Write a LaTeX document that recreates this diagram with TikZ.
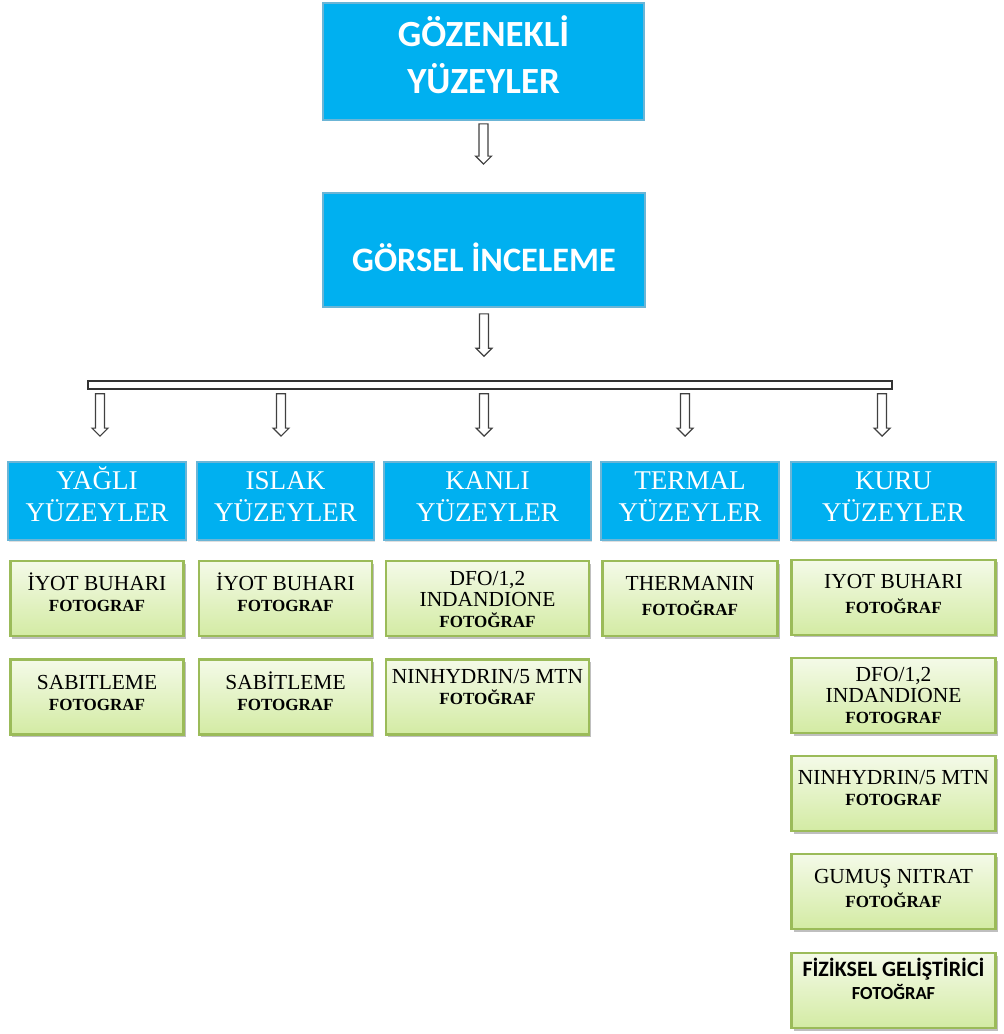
\documentclass[tikz,border=0pt]{standalone}
\usepackage{fontspec}
\setmainfont{Liberation Serif}
\newfontfamily\calibri{Carlito}
\usetikzlibrary{positioning,calc,shadows}

\definecolor{cyanb}{HTML}{00B0F0}
\definecolor{bline}{HTML}{6BB5D6}
\definecolor{gline}{HTML}{9BBB59}
\definecolor{gtop}{HTML}{F4FAE8}
\definecolor{gbot}{HTML}{D3EBA3}

\newcommand{\gsub}[1]{{\fontsize{9.7}{12}\selectfont\bfseries #1}}

\tikzset{
  tbox/.style={fill=cyanb, draw=bline, line width=1pt, minimum width=6.43cm,
    minimum height=2.34cm, align=center, text=white,
    font=\calibri\bfseries\fontsize{21}{27}\selectfont,
    drop shadow={shadow xshift=.02cm, shadow yshift=-.03cm, opacity=.25}},
  bbox/.style={fill=cyanb, draw=bline, line width=1pt, minimum height=1.56cm,
    align=center, text=white, font=\fontsize{15.4}{18}\selectfont,
    text height=.8cm, text depth=0pt,
    drop shadow={shadow xshift=.02cm, shadow yshift=-.03cm, opacity=.25}},
  gbox/.style 2 args={draw=gline, line width=1.2pt, top color=gtop, bottom color=gbot,
    inner sep=0pt, font=\fontsize{12.2}{12}\selectfont,
    drop shadow={shadow xshift=.04cm, shadow yshift=-.05cm, opacity=.5},
    execute at begin node={\begin{minipage}[c][1.50cm][t]{#1}\centering
      \vspace*{\dimexpr#2-0.36cm\relax}\rule{0pt}{0.4cm}},
    execute at end node={\end{minipage}}},
  bar/.style={draw=black!80, fill=white, line width=.8pt, inner sep=0pt,
    minimum width=16.08cm, minimum height=.16cm},
  hollowarrow/.style={draw=black!75, line width=.7pt, fill=white,
    to path={let \p1=(\tikztostart), \p2=(\tikztotarget) in
      (\x1-.09cm,\y1) -- (\x1+.09cm,\y1) -- (\x1+.09cm,\y2+.16cm)
      -- (\x1+.16cm,\y2+.16cm) -- (\x1,\y2) -- (\x1-.16cm,\y2+.16cm)
      -- (\x1-.09cm,\y2+.16cm) -- cycle}}
}

\begin{document}
\begin{tikzpicture}[node distance=.42cm]
\useasboundingbox (0,0) rectangle (20.06,-20.68);

% top of the tree
\node[tbox, text height=1.30cm, text depth=0pt] (top) at (9.67,-1.23) {GÖZENEKLİ\\YÜZEYLER};
\node[tbox, minimum height=2.28cm, text height=.85cm, text depth=0pt,
  font=\calibri\bfseries\fontsize{19.5}{27}\selectfont] (mid) at (9.68,-5.00) {GÖRSEL İNCELEME};
\node[bar] (bar) at (9.80,-7.70) {};

\draw[hollowarrow] ([yshift=-.06cm]top.south) to ([yshift=.56cm]mid.north);
\draw[hollowarrow] ([yshift=-.12cm]mid.south) to ([yshift=.48cm]bar.north);

% surface types
\node[bbox, minimum width=3.56cm] (yagli) at (1.94,-10.02) {YAĞLI\\YÜZEYLER};
\node[bbox, minimum width=3.54cm] (islak) at (5.71,-10.02) {ISLAK\\YÜZEYLER};
\node[bbox, minimum width=4.14cm] (kanli) at (9.75,-10.02) {KANLI\\YÜZEYLER};
\node[bbox, minimum width=3.56cm] (termal) at (13.80,-10.02) {TERMAL\\YÜZEYLER};
\node[bbox, minimum width=4.10cm] (kuru) at (17.87,-10.02) {KURU\\YÜZEYLER};

\foreach \b/\dx in {yagli/.06, islak/-.09, kanli/-.07, termal/-.10, kuru/-.23}
  \draw[hollowarrow] ($(bar.south -| \b.north)+(\dx,-.08)$) to ([yshift=.5cm]\b.north);

% methods
\node[gbox={3.46cm}{.54cm}, below=.39cm of yagli] (yagli1) {İYOT BUHARI\\\gsub{FOTOGRAF}};
\node[gbox={3.46cm}{.56cm}, below=of yagli1] (yagli2) {SABITLEME\\\gsub{FOTOGRAF}};

\node[gbox={3.46cm}{.54cm}, below=.39cm of islak] (islak1) {İYOT BUHARI\\\gsub{FOTOGRAF}};
\node[gbox={3.46cm}{.56cm}, below=of islak1] (islak2) {SABİTLEME\\\gsub{FOTOGRAF}};

\node[gbox={4.06cm}{.44cm}, below=.39cm of kanli] (kanli1) {DFO/1,2\\INDANDIONE\\\gsub{FOTOĞRAF}};
\node[gbox={4.06cm}{.44cm}, below=of kanli1] (kanli2) {NINHYDRIN/5 MTN\\\gsub{FOTOĞRAF}};

\node[gbox={3.50cm}{.54cm}, below=.39cm of termal] (termal1) {THERMANIN\\[2pt]\gsub{FOTOĞRAF}};

\node[gbox={4.08cm}{.54cm}, below=.36cm of kuru] (kuru1) {IYOT BUHARI\\[2pt]\gsub{FOTOĞRAF}};
\node[gbox={4.08cm}{.42cm}, below=of kuru1] (kuru2) {DFO/1,2\\INDANDIONE\\\gsub{FOTOGRAF}};
\node[gbox={4.08cm}{.52cm}, below=of kuru2] (kuru3) {NINHYDRIN/5 MTN\\\gsub{FOTOGRAF}};
\node[gbox={4.08cm}{.54cm}, below=of kuru3] (kuru4) {GUMUŞ NITRAT\\[2pt]\gsub{FOTOĞRAF}};
\node[gbox={4.08cm}{.42cm}, below=.44cm of kuru4] (kuru5) {{\calibri\bfseries\fontsize{12.5}{12}\selectfont FİZİKSEL GELİŞTİRİCİ}\\[1pt]{\calibri\bfseries\fontsize{10.5}{12}\selectfont FOTOĞRAF}};
\end{tikzpicture}
\end{document}
